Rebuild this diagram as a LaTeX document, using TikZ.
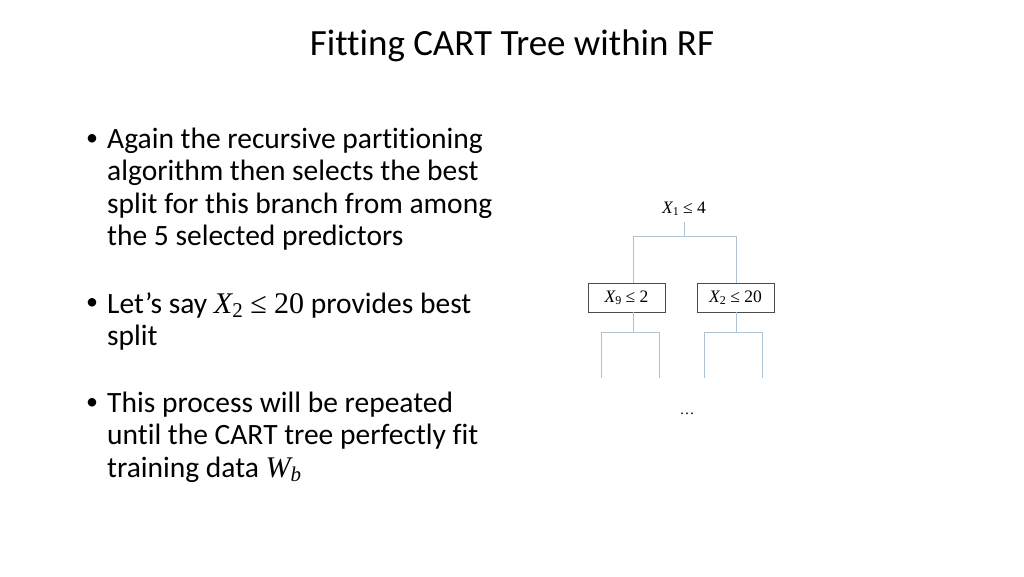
\documentclass[tikz,border=0pt]{standalone}
\usepackage{fontspec}
\setmainfont{Carlito}[Ligatures=NoCommon]
\newfontfamily\tnr{Liberation Serif}
\definecolor{ln}{RGB}{175,195,215}
\begin{document}
\begin{tikzpicture}[x=1pt,y=-1pt,
  body/.style={anchor=west,inner sep=0pt,font=\fontsize{29.5}{34}\selectfont},
  bul/.style={anchor=center,inner sep=0pt,font=\fontsize{24}{26}\selectfont},
  br/.style={draw=ln,line width=1pt},
  split/.style={draw=black!70,line width=0.6pt,minimum width=77pt,minimum height=29pt,inner sep=0pt,font=\tnr\fontsize{17.5}{18}\selectfont}]
\useasboundingbox (0,0) rectangle (1024,576);
\node (title) at (512,46) {\fontsize{37}{40}\selectfont Fitting CART Tree within RF};
\foreach \y in {140,304,404} \node[bul] at (92,\y) {•};
\node[body] (t1) at (107,141) {Again the recursive partitioning};
\node[body] (t2) at (107,173) {algorithm then selects the best};
\node[body] (t3) at (107,206) {split for this branch from among};
\node[body] (t4) at (107,238) {the 5 selected predictors};
\node[body] (t5) at (107,305) {Let’s say {\tnr\fontsize{30}{30}\selectfont\itshape X\raisebox{-0.3ex}{\upshape\fontsize{21}{20}\selectfont 2}\upshape\ ≤ 20} provides best};
\node[body] (t6) at (107,338) {split};
\node[body] (t7) at (107,405) {This process will be repeated};
\node[body] (t8) at (107,437) {until the CART tree perfectly fit};
\node[body] (t9) at (107,470) {training data {\tnr\fontsize{30}{30}\selectfont\itshape W\raisebox{-0.3ex}{\fontsize{21}{20}\selectfont b}}};
% tree
\node[inner sep=0pt,font=\tnr\fontsize{17.5}{18}\selectfont] (r) at (684,209) {{\itshape X}\raisebox{-0.3ex}{\fontsize{12}{12}\selectfont 1} ≤ 4};
\node[split] (a) at (626.5,297.5) {{\itshape X}\raisebox{-0.3ex}{\fontsize{12}{12}\selectfont 9} ≤ 2};
\node[split] (b) at (735.5,297.5) {{\itshape X}\raisebox{-0.3ex}{\fontsize{12}{12}\selectfont 2} ≤ 20};
\coordinate (rj) at (684,236);
\draw[br] (684,222) -- (rj);
\draw[br] (633,236) -- (736,236);
\draw[br] (633,236) -- (633,283);
\draw[br] (736,236) -- (736,283);
\draw[br] (633,312) -- (633,332) (601,378) -- (601,332) -- (659,332) -- (659,378);
\draw[br] (736,312) -- (736,332) (704,378) -- (704,332) -- (762,332) -- (762,378);
\node[inner sep=0pt,font=\tnr\fontsize{15}{16}\selectfont] (dots) at (687,414) {…};
\end{tikzpicture}
\end{document}
